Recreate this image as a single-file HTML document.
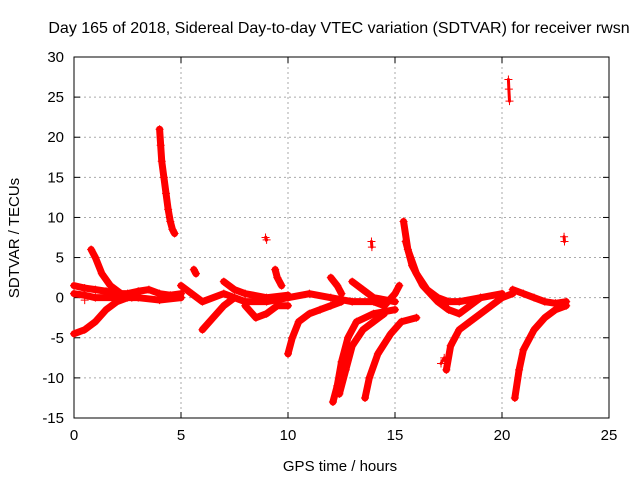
<!DOCTYPE html>
<html><head><meta charset="utf-8"><style>
body{margin:0;background:#fff;font-family:"Liberation Sans",sans-serif}
svg text{font-family:"Liberation Sans",sans-serif;font-size:15px;fill:#000}
</style></head><body>
<svg id="chart" width="640" height="480" viewBox="0 0 640 480">
<rect x="0" y="0" width="640" height="480" fill="#fff"/>
<text x="339" y="33" text-anchor="middle" style="font-size:16px">Day 165 of 2018, Sidereal Day-to-day VTEC variation (SDTVAR) for receiver rwsn</text>
<g id="grid"></g><g id="axes"></g><g id="marks"></g>
<text x="340" y="471" text-anchor="middle">GPS time / hours</text>
<text transform="translate(19,238) rotate(-90)" text-anchor="middle">SDTVAR / TECUs</text>
</svg>
<script>
const xTicks=[0,5,10,15,20,25];
const yTicks=[-15,-10,-5,0,5,10,15,20,25,30];
const track1=[[4.0,21],[4.05,19],[4.1,17],[4.2,15],[4.3,13],[4.4,11],[4.5,9.5],[4.6,8.5],[4.7,8]];
const track2=[[0.8,6],[1.0,5],[1.3,3],[1.7,1.5],[2.2,0.5],[2.7,0]];
const track3=[[0,1.5],[0.5,1.2],[1,1],[1.5,0.8],[2,0.5],[2.5,0.5],[3,0.8],[3.5,1],[4,0.5],[4.5,0.3],[5,0.5]];
const track4=[[0,-4.5],[0.5,-4],[1,-3],[1.5,-1.5],[2,-0.5],[2.5,0]];
const track5=[[0,0.5],[0.5,0.3],[1,0],[2,0],[3,0],[4,-0.3],[5,0]];
const track6=[[5,1.5],[5.5,0.5],[6,-0.5],[7,0.5],[8,-0.5],[9,-0.5],[10,0]];
const track7=[[6,-4],[6.5,-2.5],[7,-1],[7.5,0]];
const track8=[[7,2],[7.5,1],[8,0.5],[9,0],[10,0.3]];
const track9=[[8,-1],[8.5,-2.5],[9,-2],[9.5,-1],[10,-1]];
const track10=[[9.4,3.5],[9.5,2.5],[9.7,1.5]];
const track11=[[5.6,3.5],[5.7,3]];
const track12=[[10,-7],[10.2,-5],[10.5,-3],[11,-2],[11.5,-1.5],[12,-1],[12.5,-0.5]];
const track13=[[10,0],[11,0.5],[12,0],[13,-0.5],[14,-0.5],[14.5,-1],[15,0.5],[15.2,1.5]];
const track14=[[12,2.5],[12.3,1.5],[12.5,0.5]];
const track15=[[12.1,-13],[12.3,-11],[12.5,-8],[12.8,-5],[13.2,-3],[14,-2],[15,-1.5]];
const track16=[[12.4,-12],[12.7,-9],[13,-6],[13.5,-4],[14,-3],[14.5,-2]];
const track17=[[13.6,-12.5],[13.8,-10],[14.2,-7],[14.8,-4.5],[15.3,-3],[16,-2.5]];
const track18=[[13,2],[13.5,1],[14,0],[15,-0.5]];
const track19=[[15.4,9.5],[15.6,6],[16,3],[16.5,1],[17,0],[17.5,-0.5],[18,-0.5],[19,0],[20,0.5]];
const track20=[[15.5,7],[15.8,4],[16.3,1.5],[17,-0.5],[17.5,-1.5],[18,-2],[18.5,-1],[19,0]];
const track21=[[17.4,-9],[17.6,-6],[18,-4],[18.5,-3],[19,-2],[19.5,-1],[20,0],[20.5,0.5]];
const track22=[[20.6,-12.5],[20.8,-9],[21,-6.5],[21.5,-4],[22,-2.5],[22.5,-1.5],[23,-1]];
const track23=[[20.5,1],[21,0.5],[21.5,0],[22,-0.5],[22.5,-0.7],[23,-0.5]];
const track24=[[20.3,27.2],[20.32,26],[20.35,24.5]];
const track25=[[8.95,7.5],[9.0,7.2]];
const track26=[[13.9,7],[13.92,6.3]];
const track27=[[22.9,7.6],[22.92,7]];
const track28=[[17.15,-8.2],[17.3,-7.5]];
const isolated=[[0.5,-0.3]];
const tracks=[track1,track2,track3,track4,track5,track6,track7,track8,track9,track10,track11,track12,track13,track14,track15,track16,track17,track18,track19,track20,track21,track22,track23];
const smallTracks=[track24,track25,track26,track27,track28];
const NS='http://www.w3.org/2000/svg';
const L=74,R=609,T=57,B=418;
const xS=v=>L+(v-0)/25*(R-L);
const yS=v=>B-(v+15)/45*(B-T);
function mk(tag,attrs,parent){const e=document.createElementNS(NS,tag);for(const k in attrs)e.setAttribute(k,attrs[k]);parent.appendChild(e);return e;}
const grid=document.getElementById('grid'),axes=document.getElementById('axes'),marks=document.getElementById('marks');
xTicks.forEach(t=>{const x=xS(t);
 if(t>0&&t<25){const g=mk('line',{x1:x,x2:x,y1:T,y2:B,stroke:'#aaa','stroke-dasharray':'2,3'},grid);}
 mk('line',{x1:x,x2:x,y1:B,y2:B-6,stroke:'#000'},axes);mk('line',{x1:x,x2:x,y1:T,y2:T+6,stroke:'#000'},axes);
 const tx=mk('text',{x:x,y:B+22,'text-anchor':'middle'},axes);tx.textContent=t;
 });
yTicks.forEach(t=>{const y=yS(t);
 if(t>-15&&t<30){const g=mk('line',{x1:L,x2:R,y1:y,y2:y,stroke:'#aaa','stroke-dasharray':'2,3'},grid);}
 mk('line',{x1:L,x2:L+6,y1:y,y2:y,stroke:'#000'},axes);mk('line',{x1:R,x2:R-6,y1:y,y2:y,stroke:'#000'},axes);
 const tx=mk('text',{x:L-10,y:y+5,'text-anchor':'end'},axes);tx.textContent=t;
 });
const frame=mk('rect',{x:L,y:T,width:R-L,height:B-T,fill:'none',stroke:'#000'},axes);

function plus(x,y){const p=mk('path',{d:`M${x-4},${y}H${x+4}M${x},${y-4}V${y+4}`,stroke:'#f00','stroke-width':1},marks);
 }
function drawTrack(tr,w){
 const pl=mk('polyline',{points:tr.map(p=>xS(p[0])+','+yS(p[1])).join(' '),fill:'none',stroke:'#f00','stroke-width':w,'stroke-linejoin':'round','stroke-linecap':'round'},marks);
 
 tr.forEach(p=>plus(xS(p[0]),yS(p[1])));}
tracks.forEach(tr=>drawTrack(tr,7));
smallTracks.forEach(tr=>drawTrack(tr,3));
isolated.forEach(p=>plus(xS(p[0]),yS(p[1])));
</script>
</body></html>
